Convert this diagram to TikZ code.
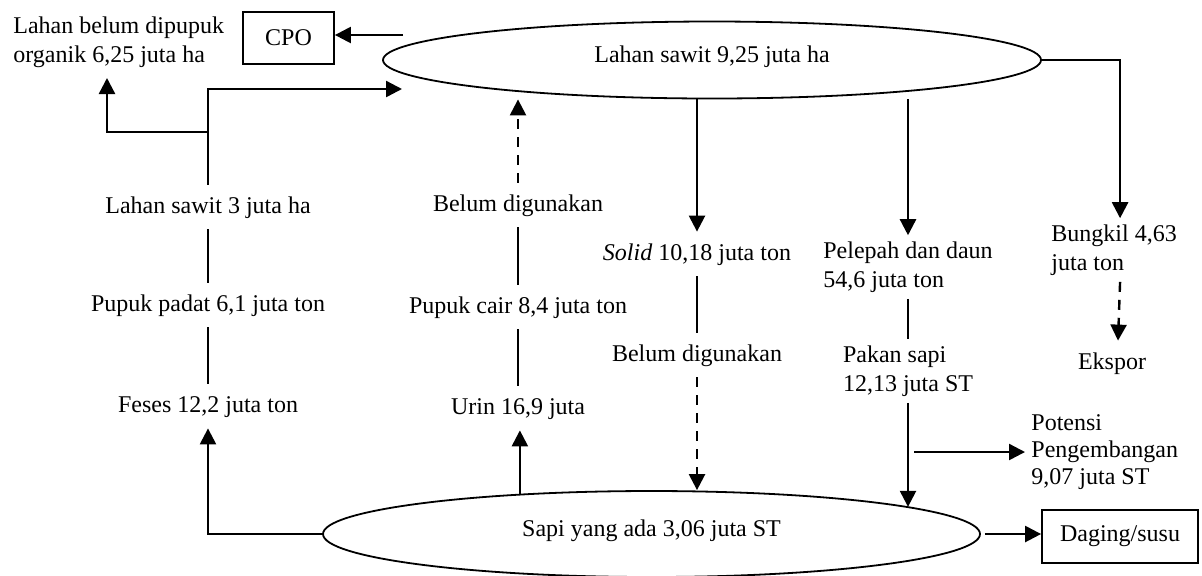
\documentclass[tikz,border=0pt]{standalone}
\usepackage{fontspec}
\setmainfont{Liberation Serif}
\usetikzlibrary{shapes.geometric, arrows.meta, positioning, calc}

\begin{document}
\begin{tikzpicture}[x=0.5pt, y=-0.5pt,
  >={Triangle[length=8pt,width=8pt]},
  panah/.style={->, line width=1.2pt},
  garis/.style={line width=1.2pt},
  putus/.style={->, line width=1.2pt, dash pattern=on 5pt off 4pt},
  elips/.style={draw, ellipse, line width=0.9pt, inner sep=0pt, text height=8pt, text depth=6pt, font=\fontsize{12}{14}\selectfont},
  kotak/.style={draw, rectangle, line width=0.9pt, inner sep=0pt, font=\fontsize{12}{14}\selectfont},
  teks/.style={inner sep=5pt, text height=9pt, text depth=3pt, font=\fontsize{12}{14}\selectfont},
  teksb/.style={inner sep=3pt, align=left, font=\fontsize{12}{14.5}\selectfont}]

% --- batas gambar ---
\useasboundingbox (0,0) rectangle (1202,575);

% LAYER 1: elips dan kotak
\node[elips, minimum width=329pt, minimum height=38.5pt] (lahan) at (712,60) {Lahan sawit 9,25 juta ha};
\node[elips, minimum width=328.5pt, minimum height=43pt] (sapi) at (651.5,534) {Sapi yang ada 3,06 juta ST};
\node[kotak, minimum width=45.5pt, minimum height=26pt] (cpo) at (288.5,38) {CPO};
\node[kotak, minimum width=78pt, minimum height=26.5pt] (daging) at (1120,536.5) {Daging/susu};

% LAYER 2: teks keterangan
\node[teksb, anchor=west] (belum0) at (7,42) {Lahan belum dipupuk\\organik 6,25 juta ha};
\node[teks] (lsawit3) at (208,207) {Lahan sawit 3 juta ha};
\node[teks] (padat) at (208,305) {Pupuk padat 6,1 juta ton};
\node[teks] (feses) at (208,406) {Feses 12,2 juta ton};
\node[teks] (belum1) at (518,205) {Belum digunakan};
\node[teks] (cair) at (518,307) {Pupuk cair 8,4 juta ton};
\node[teks] (urin) at (518,408) {Urin 16,9 juta};
\node[teks] (solid) at (697,254) {\textit{Solid} 10,18 juta ton};
\node[teks] (belum2) at (697,355) {Belum digunakan};
\node[teksb] (pelepah) at (908,267) {Pelepah dan daun\\54,6 juta ton};
\node[teksb] (pakan) at (908,371) {Pakan sapi\\12,13 juta ST};
\node[teksb, anchor=west] (bungkil) at (1045,250) {Bungkil 4,63\\juta ton};
\node[teks] (ekspor) at (1112,363) {Ekspor};
\node[teksb, anchor=west, font=\fontsize{12}{13.3}\selectfont] (potensi) at (1025,452) {Potensi\\Pengembangan\\9,07 juta ST};

% LAYER 3: titik bantu
\coordinate (masuk) at (402,89);
\coordinate (cabang) at (208,132);
\coordinate (ujung) at (107,78);
\coordinate (cpoawal) at (403,35);

% LAYER 4: garis dan panah
\draw[garis] (feses) -- (padat);
\draw[garis] (padat) -- (lsawit3);
\draw[panah] (lsawit3.north) |- (masuk);
\draw[panah] (cabang) -| (ujung);
\draw[panah] (sapi.west) -| (feses.south);
\draw[garis] (urin) -- (cair);
\draw[garis] (cair) -- (belum1);
\draw[putus] (belum1.north) -- (belum1.north |- lahan.south);
\draw[panah] (sapi.163.5) -- (sapi.163.5 |- urin.south);
\draw[panah] (lahan.south -| solid.north) -- (solid.north);
\draw[garis] (solid) -- (belum2);
\draw[putus] (belum2.south) -- (belum2.south |- sapi.north);
\draw[panah] (lahan.south -| pelepah.north) -- (pelepah.north);
\draw[garis] (pelepah) -- (pakan);
\draw[panah] (pakan.south) -- (pakan.south |- sapi.6);
\draw[panah] ([xshift=3pt]pakan.south |- potensi.west) -- (potensi.west);
\draw[panah] (lahan.east) -| ([xshift=3pt]bungkil.north);
\draw[putus] ([xshift=3pt]bungkil.south) -- ([xshift=3pt]ekspor.north);
\draw[panah] (cpoawal) -- (cpoawal -| cpo.east);
\draw[panah, shorten <=2pt] (sapi.east) -- (sapi.east -| daging.west);
\end{tikzpicture}
\end{document}
